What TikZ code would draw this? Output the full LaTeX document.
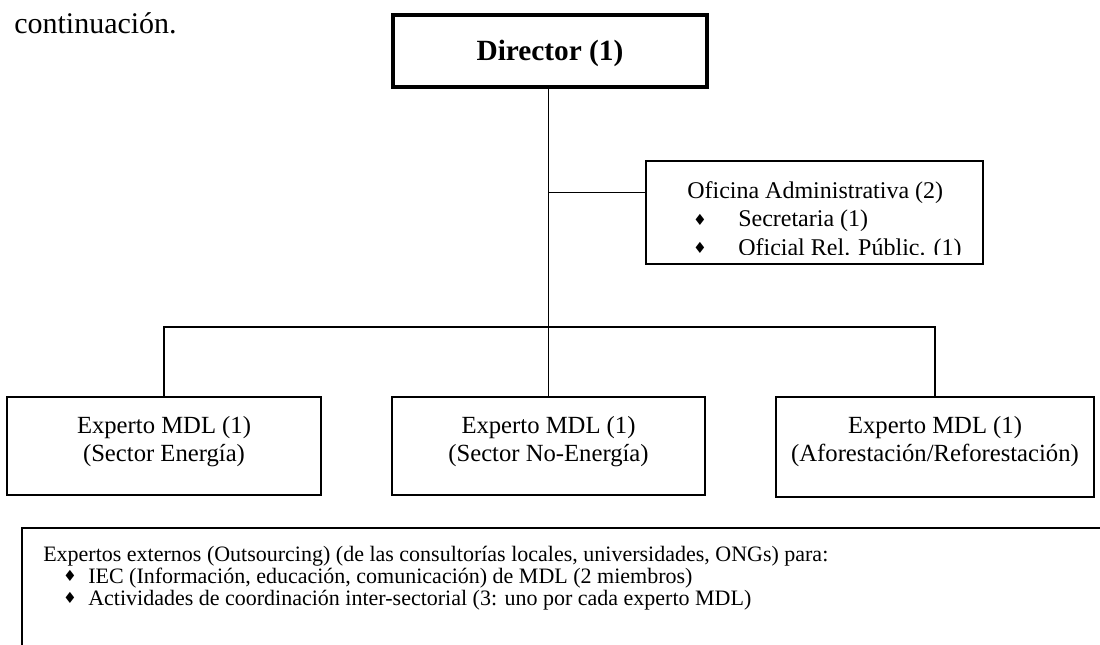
\documentclass[tikz,border=0pt]{standalone}
\usepackage{fontspec}
\setmainfont{Liberation Serif}
\newfontfamily\symfont{DejaVu Sans}
\usetikzlibrary{calc}
\begin{document}
\begin{tikzpicture}[x=0.75pt,y=-0.75pt,
  box/.style={draw, line width=1.5pt, rectangle, inner sep=0pt},
  conn/.style={line width=1.2pt},
  txt/.style={inner sep=0pt, font=\fontsize{18}{20.7}\selectfont},
  exptxt/.style={inner sep=0pt, font=\fontsize{18.5}{21}\selectfont},
  small/.style={inner sep=0pt, font=\fontsize{16.5}{18}\selectfont},
  bul/.style={inner sep=0pt, font=\symfont\fontsize{11.5}{11.5}\selectfont}]
\useasboundingbox (0,0) rectangle (1100,644);
\clip (0,0) rectangle (1100,644);
\fill[white] (0,0) rectangle (1100,644);

% paragraph end above the chart
\node[inner sep=0pt, anchor=base west, font=\fontsize{22.5}{25}\selectfont] (intro) at (14,33) {continuación.};

% director
\node[box, line width=3pt, minimum width=235.5pt, minimum height=54pt] (director) at (550,51) {};
\node[inner sep=0pt, anchor=base, font=\fontsize{22}{25}\selectfont\bfseries] (dirtxt) at (550,60) {Director (1)};

% administrative office (text box clips its last line)
\node[box, minimum width=252.75pt, minimum height=77.25pt] (oficina) at (814.5,212.5) {};
\begin{scope}
  \clip (647,162) rectangle (982,254);
  \node[txt, anchor=base west] (of1) at (687,198) {Oficina Administrativa (2)};
  \node[bul] (ofb2) at (700,220) {♦};
  \node[txt, anchor=base west] (of2) at (738,226.5) {Secretaria (1)};
  \node[bul] (ofb3) at (700,248) {♦};
  \node[txt, anchor=base west] (of3) at (738,255) {Oficial Rel. Públic. (1)};
\end{scope}

% experts
\node[box, minimum width=235.5pt, minimum height=73.5pt] (exp1) at (164,446) {};
\node[box, minimum width=234.75pt, minimum height=73.5pt] (exp2) at (548.5,446) {};
\node[box, minimum width=238.5pt, minimum height=75pt] (exp3) at (935,447) {};
\node[exptxt, anchor=base] (e1a) at (164,433) {Experto MDL (1)};
\node[exptxt, anchor=base] (e1b) at (164,461) {(Sector Energía)};
\node[exptxt, anchor=base] (e2a) at (548.5,433) {Experto MDL (1)};
\node[exptxt, anchor=base] (e2b) at (548.5,461) {(Sector No-Energía)};
\node[exptxt, anchor=base] (e3a) at (935,433) {Experto MDL (1)};
\node[exptxt, anchor=base] (e3b) at (935,461) {(Aforestación/Reforestación)};

% external experts
\node[box, minimum width=823.5pt, minimum height=114pt] (externos) at (571,604) {};
\node[small, anchor=base west] (x1) at (43,561) {Expertos externos (Outsourcing) (de las consultorías locales, universidades, ONGs) para:};
\node[bul] (xb2) at (70,576) {♦};
\node[small, anchor=base west] (x2) at (88,583) {IEC (Información, educación, comunicación) de MDL (2 miembros)};
\node[bul] (xb3) at (70,598) {♦};
\node[small, anchor=base west] (x3) at (88,605) {Actividades de coordinación inter-sectorial (3: uno por cada experto MDL)};

% connectors
\coordinate (bus) at (548.5,327);
\coordinate (ofjoin) at ($(oficina.north west)!0.31!(oficina.south west)$);
\draw[conn] (director.south -| exp2.north) -- (exp2.north);
\draw[conn] (ofjoin -| exp2.north) -- (ofjoin);
\draw[conn] (exp1.north) |- (bus) -| (exp3.north);
\end{tikzpicture}
\end{document}
